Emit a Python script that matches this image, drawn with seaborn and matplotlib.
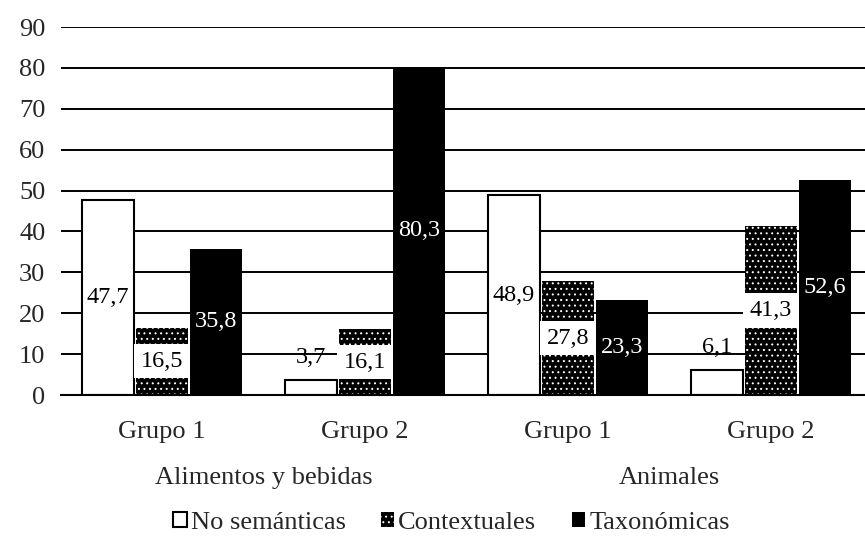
import matplotlib
matplotlib.use("Agg")
import numpy as np
import pandas as pd
import matplotlib.pyplot as plt
import matplotlib.transforms as mtransforms
from matplotlib.patches import Rectangle
import seaborn as sns

# %% data
domains = ["Alimentos y bebidas", "Animales"]
groups = ["Grupo 1", "Grupo 2"]
series = ["No semánticas", "Contextuales", "Taxonómicas"]

no_semanticas = [47.7, 3.7, 48.9, 6.1]
contextuales = [16.5, 16.1, 27.8, 41.3]
taxonomicas = [35.8, 80.3, 23.3, 52.6]

conditions = [f"{d} / {g}" for d in domains for g in groups]
tick_labels = [g for d in domains for g in groups]

df = pd.DataFrame(
    {
        "condition": conditions * len(series),
        "serie": np.repeat(series, len(conditions)),
        "valor": no_semanticas + contextuales + taxonomicas,
    }
)

# %% style
sns.set_theme(style="white")
plt.rcParams["font.family"] = ["Liberation Serif", "DejaVu Serif"]
plt.rcParams["hatch.linewidth"] = 0.7
plt.rcParams["axes.axisbelow"] = True

fig = plt.figure(figsize=(8.65, 5.36), dpi=100)
ax = fig.add_axes([0.070, 0.263, 0.9387, 0.6866])

sns.barplot(
    data=df,
    x="condition",
    y="valor",
    hue="serie",
    order=conditions,
    hue_order=series,
    palette=["white", "black", "black"],
    saturation=1,
    width=0.8,
    gap=0.04,
    legend=False,
    ax=ax,
)

bar_styles = [
    dict(facecolor="white", edgecolor="black", linewidth=1.5, hatch=None),
    dict(facecolor="black", edgecolor="white", linewidth=0, hatch="..."),
    dict(facecolor="black", edgecolor="black", linewidth=0, hatch=None),
]
for cont, st in zip(ax.containers, bar_styles):
    for bar in cont:
        bar.set(**st)

# value labels (centred; small values go above the bar)
label_sets = [no_semanticas, contextuales, taxonomicas]
text_colors = ["black", "black", "white"]
for i, (cont, vals) in enumerate(zip(ax.containers, label_sets)):
    for bar, v in zip(cont, vals):
        x = bar.get_x() + bar.get_width() / 2
        y = v / 2 if v >= 10 else v + 5.5
        color = text_colors[i] if v >= 10 else "black"
        if i == 1:
            ax.add_patch(
                Rectangle(
                    (bar.get_x() - 0.008, y - 4.2),
                    bar.get_width() + 0.016,
                    8.4,
                    facecolor="white",
                    edgecolor="none",
                    zorder=3,
                )
            )
        ax.text(
            x,
            y,
            f"{v:.1f}".replace(".", ","),
            ha="center",
            va="center",
            color=color,
            fontsize=17.5,
            zorder=4,
        )

# axes
ax.set_xlim(-0.5, len(conditions) - 0.5)
ax.set_ylim(0, 90)
ax.set_yticks(range(0, 91, 10))
ax.yaxis.grid(True, color="black", linewidth=1.4)
ax.set_xticks(range(len(conditions)))
ax.set_xticklabels(tick_labels)
ax.tick_params(axis="x", length=0, pad=19, labelsize=19)
ax.tick_params(axis="y", length=0, pad=11, labelsize=19)
ax.set_xlabel("")
ax.set_ylabel("")
for s in ["left", "top", "right"]:
    ax.spines[s].set_visible(False)
ax.spines["bottom"].set_color("black")
ax.spines["bottom"].set_linewidth(1.5)

trans = mtransforms.blended_transform_factory(ax.transData, ax.transAxes)
for i, d in enumerate(domains):
    ax.text(2 * i + 0.5, -0.226, d, transform=trans, ha="center", va="center",
            fontsize=19)

handles = [cont.patches[0] for cont in ax.containers]
fig.legend(
    handles,
    series,
    loc="center",
    bbox_to_anchor=(0.522, 0.024),
    ncol=3,
    frameon=False,
    fontsize=19,
    handlelength=0.5,
    handleheight=0.5,
    handletextpad=0.15,
    columnspacing=1.35,
    borderpad=0,
)

fig.savefig("out.png", dpi=100)
